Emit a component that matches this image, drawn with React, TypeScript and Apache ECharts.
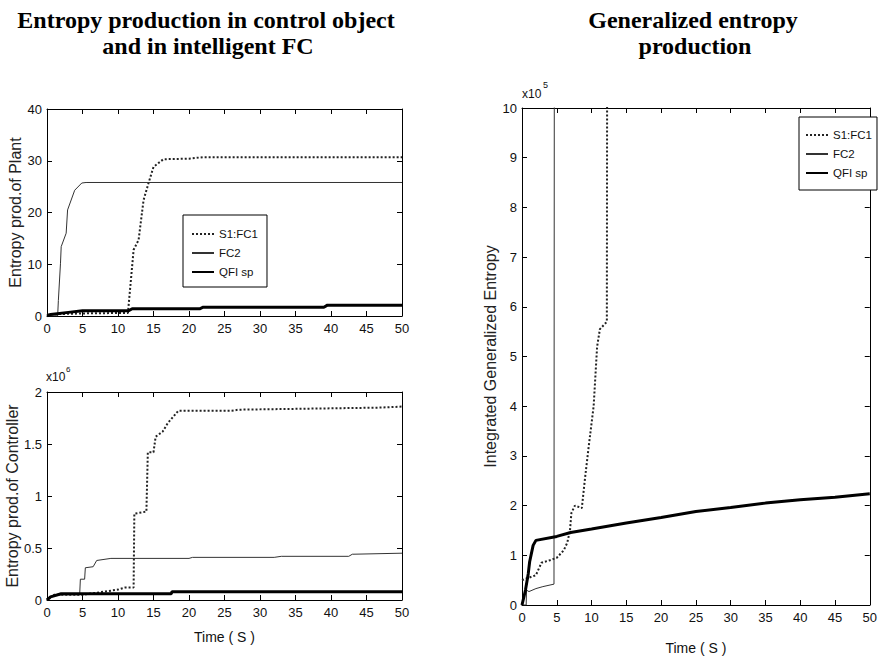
import React, { useEffect, useRef } from "react";
import * as echarts from "echarts";

type P = [number, number][];

const seriesNames = ["S1:FC1", "FC2", "QFI sp"];

// Plant entropy production
const plantFC1: P = [[0, 0.3], [5, 0.5], [11.4, 0.6], [12.2, 12.8], [12.9, 14.7], [13.6, 22.4], [14.3, 25.7], [15, 28.8], [16.4, 30.3], [20, 30.4], [22, 30.7], [50, 30.7]];
const plantFC2: P = [[0, 0], [1.5, 0], [1.6, 3], [1.9, 10.2], [2.0, 13.4], [2.7, 16], [2.9, 20.5], [3.9, 24.3], [4.9, 25.7], [5.5, 25.8], [50, 25.8]];
const plantQFI: P = [[0, 0], [0.5, 0.3], [3, 0.7], [5, 1.0], [11.5, 1.0], [12, 1.4], [21.5, 1.4], [22, 1.7], [39, 1.7], [39.5, 2.1], [50, 2.1]];

// Controller entropy production (x10^6)
const ctrlFC1: P = [[0, 0], [0.3, 0.02], [1, 0.05], [5, 0.05], [7, 0.07], [9, 0.09], [10, 0.1], [11, 0.12], [12.2, 0.12], [12.3, 0.83], [14, 0.85], [14.2, 1.42], [15, 1.42], [15.3, 1.57], [16.3, 1.62], [17, 1.7], [18, 1.78], [18.5, 1.82], [26, 1.82], [27, 1.83], [37, 1.84], [47, 1.85], [50, 1.86]];
const ctrlFC2: P = [[0, 0], [0.5, 0.02], [1, 0.05], [4.6, 0.05], [4.7, 0.2], [5.3, 0.2], [5.4, 0.31], [6.5, 0.32], [7, 0.38], [9, 0.4], [20, 0.4], [20.5, 0.41], [32, 0.41], [33, 0.42], [42.5, 0.42], [43, 0.44], [50, 0.45]];
const ctrlQFI: P = [[0, 0], [0.5, 0.03], [2, 0.06], [17.5, 0.06], [17.6, 0.08], [50, 0.08]];

// Integrated generalized entropy (x10^5)
const genFC1: P = [[0, 0.5], [1, 0.55], [2, 0.6], [2.8, 0.85], [4, 0.9], [5, 0.95], [6, 1.1], [6.5, 1.25], [6.9, 1.5], [7.1, 1.85], [7.6, 2.0], [8.6, 1.95], [9.1, 2.6], [9.6, 3.2], [10.3, 4.0], [10.8, 5.2], [11.2, 5.55], [12.2, 5.7], [12.25, 12]];
const genFC2: P = [[0, 0], [0.6, 0], [0.65, 0.3], [1, 0.27], [2, 0.33], [3, 0.37], [4.6, 0.42], [4.65, 12]];
const genQFI: P = [[0, 0], [0.5, 0.3], [0.9, 0.63], [1.1, 0.87], [1.6, 1.2], [2.0, 1.3], [5, 1.38], [7, 1.46], [10, 1.53], [15, 1.65], [20, 1.76], [25, 1.88], [30, 1.96], [35, 2.05], [40, 2.12], [45, 2.17], [50, 2.24]];

const NARROW = "'Liberation Sans Narrow', 'Liberation Sans', Arial, sans-serif";
const SANS = "'Liberation Sans', Arial, sans-serif";
const SERIF = "'Liberation Serif', 'Times New Roman', serif";

export default function App() {
  const ref = useRef<HTMLDivElement>(null);
  useEffect(() => {
    if (!ref.current) return;
    const chart = echarts.init(ref.current, undefined, { renderer: "svg" });

    const grids = [
      { left: 47, top: 109, width: 355, height: 207 },
      { left: 47, top: 392, width: 355, height: 208 },
      { left: 522, top: 108, width: 355, height: 500 },
    ];
    const yRanges = [
      { max: 40, interval: 10, name: "Entropy prod.of Plant" },
      { max: 2, interval: 0.5, name: "Entropy prod.of Controller" },
      { max: 10, interval: 1, name: "Integrated Generalized Entropy" },
    ];
    const xNames = ["", "Time ( S )", "Time ( S )"];
    const xGaps = [0, 30, 36];

    const line = { show: true, onZero: false, lineStyle: { color: "#000", width: 1 } };
    const tick = { show: true, inside: true, length: 5, lineStyle: { color: "#000" } };

    const xAxis: any[] = [];
    const yAxis: any[] = [];
    grids.forEach((_, i) => {
      xAxis.push({
        type: "value", gridIndex: i, min: 0, max: 50, interval: 5, position: "bottom",
        name: xNames[i], nameLocation: "middle", nameGap: xGaps[i],
        nameTextStyle: { fontFamily: NARROW, fontSize: 14, color: "#111" },
        axisLine: line, axisTick: tick,
        axisLabel: { fontFamily: NARROW, fontSize: 13, color: "#111", margin: 6 },
        splitLine: { show: false },
      });
      xAxis.push({
        type: "value", gridIndex: i, min: 0, max: 50, interval: 5, position: "top",
        axisLine: line, axisTick: tick, axisLabel: { show: false }, splitLine: { show: false },
      });
      yAxis.push({
        type: "value", gridIndex: i, min: 0, max: yRanges[i].max, interval: yRanges[i].interval, position: "left",
        name: yRanges[i].name, nameLocation: "middle", nameGap: 19,
        nameTextStyle: { fontFamily: SANS, fontSize: 16, color: "#222" },
        axisLine: line, axisTick: tick,
        axisLabel: { fontFamily: NARROW, fontSize: 13, color: "#111", margin: 5 },
        splitLine: { show: false },
      });
      yAxis.push({
        type: "value", gridIndex: i, min: 0, max: yRanges[i].max, interval: yRanges[i].interval, position: "right",
        axisLine: line, axisTick: tick, axisLabel: { show: false }, splitLine: { show: false },
      });
    });

    const styles = [
      { color: "#222", width: 2, type: "dotted" },
      { color: "#333", width: 1, type: "solid" },
      { color: "#000", width: 3, type: "solid" },
    ];
    const dataSets: P[][] = [
      [plantFC1, plantFC2, plantQFI],
      [ctrlFC1, ctrlFC2, ctrlQFI],
      [genFC1, genFC2, genQFI],
    ];
    const series: any[] = [];
    dataSets.forEach((set, g) => {
      set.forEach((data, k) => {
        series.push({
          type: "line", name: seriesNames[k], data,
          xAxisIndex: g * 2, yAxisIndex: g * 2,
          showSymbol: false, symbol: "none", clip: true,
          lineStyle: { ...styles[k] }, itemStyle: { color: styles[k].color },
          z: 2 + k,
        });
      });
    });

    const legendBase = {
      orient: "vertical", data: seriesNames, borderColor: "#000", borderWidth: 1,
      backgroundColor: "#fff", itemWidth: 22, itemHeight: 12, itemGap: 7,
      textStyle: { fontFamily: NARROW, fontSize: 11.5, color: "#111" },
      itemStyle: { opacity: 0 },
      selectedMode: false,
    };

    const title = (text: string, x: number, y: number) => ({
      type: "text", x, y,
      style: { text, fontFamily: SERIF, fontWeight: "bold", fontSize: 24, fill: "#000", align: "center", verticalAlign: "middle" },
    });

    chart.setOption({
      animation: false,
      backgroundColor: "#fff",
      grid: grids,
      xAxis, yAxis, series,
      legend: [
        { ...legendBase, left: 183, top: 215, padding: [13, 9, 9, 8] },
        { ...legendBase, left: 799, top: 117, padding: [12, 5, 11, 6] },
      ],
      graphic: [
        title("Entropy production in control object", 206, 20),
        title("and in intelligent FC", 208, 46),
        title("Generalized entropy", 693, 20),
        title("production", 695, 46),
        { type: "text", x: 46, y: 371, style: { text: "x10", fontFamily: NARROW, fontSize: 12, fill: "#111" } },
        { type: "text", x: 66, y: 365, style: { text: "6", fontFamily: NARROW, fontSize: 8, fill: "#111" } },
        { type: "text", x: 522, y: 88, style: { text: "x10", fontFamily: NARROW, fontSize: 12, fill: "#111" } },
        { type: "text", x: 543, y: 80, style: { text: "5", fontFamily: NARROW, fontSize: 9, fill: "#111" } },
      ],
    });
    return () => chart.dispose();
  }, []);
  return <div ref={ref} style={{ position: "fixed", left: 0, top: 0, width: 880, height: 660 }} />;
}
